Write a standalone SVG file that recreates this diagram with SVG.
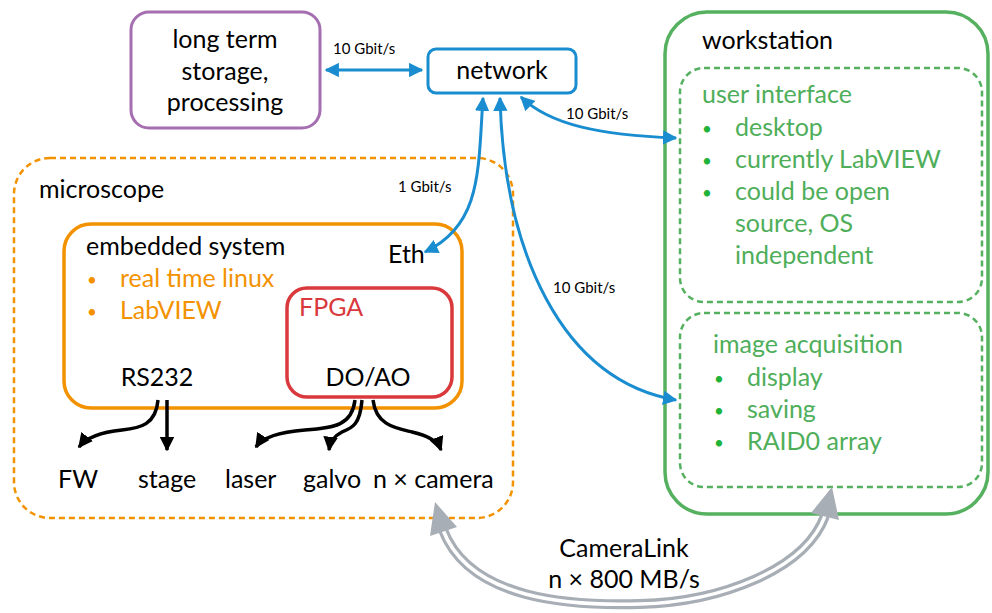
<svg xmlns="http://www.w3.org/2000/svg" width="992" height="613" viewBox="0 0 992 613">
<defs>
<style>
text{font-family:Lato,"Liberation Sans",sans-serif;font-size:25px;fill:#000}
.small{font-size:15px}
.bul{font-size:17px}
.or{fill:#f39200}
.gr{fill:#4fae5a}
.bg{fill:#1fb33a}
.red{fill:#d9393c}
.blue{fill:none;stroke:#1a8dd0;stroke-width:3}
.blk{fill:none;stroke:#000;stroke-width:3.5}
</style>
<marker id="bh" viewBox="0 0 10 10" refX="9" refY="5" markerWidth="4.8" markerHeight="4.8" orient="auto-start-reverse" markerUnits="strokeWidth">
<path d="M0,0 L10,5 L0,10 z" fill="#1a8dd0"/>
</marker>
<marker id="kh" viewBox="0 0 10 10" refX="9" refY="5" markerWidth="4.2" markerHeight="4.2" orient="auto" markerUnits="strokeWidth">
<path d="M0,0 L10,5 L0,10 z" fill="#000"/>
</marker>
</defs>
<rect width="992" height="613" fill="#fff"/>

<g id="storage">
<rect x="131" y="12" width="189" height="116" rx="18" fill="none" stroke="#a56eb0" stroke-width="3"/>
<text x="225" y="48" text-anchor="middle">long term</text>
<text x="225" y="80" text-anchor="middle">storage,</text>
<text x="225" y="111" text-anchor="middle">processing</text>
</g>

<g id="network">
<rect x="428" y="49" width="148" height="44" rx="8" fill="none" stroke="#1a8dd0" stroke-width="3"/>
<text x="502" y="79" text-anchor="middle">network</text>
</g>

<g id="workstation">
<rect x="665" y="12" width="323" height="502" rx="42" fill="none" stroke="#55b160" stroke-width="3.5"/>
<text x="702" y="49">workstation</text>
</g>

<g id="user-interface">
<rect x="680" y="68" width="302" height="234" rx="24" fill="none" stroke="#55b160" stroke-width="2.5" stroke-dasharray="6,4"/>
<text x="702" y="103" class="gr">user interface</text>
<text x="702" y="135" class="bg bul">•</text><text x="735" y="136" class="gr">desktop</text>
<text x="702" y="167" class="bg bul">•</text><text x="735" y="168" class="gr">currently LabVIEW</text>
<text x="702" y="199" class="bg bul">•</text><text x="735" y="200" class="gr">could be open</text>
<text x="735" y="232" class="gr">source, OS</text>
<text x="735" y="264" class="gr">independent</text>
</g>

<g id="image-acquisition">
<rect x="680" y="313" width="302" height="174" rx="24" fill="none" stroke="#55b160" stroke-width="2.5" stroke-dasharray="6,4"/>
<text x="713" y="353" class="gr">image acquisition</text>
<text x="714" y="385" class="bg bul">•</text><text x="747" y="386" class="gr">display</text>
<text x="714" y="417" class="bg bul">•</text><text x="747" y="418" class="gr">saving</text>
<text x="714" y="449" class="bg bul">•</text><text x="747" y="450" class="gr">RAID0 array</text>
</g>

<g id="microscope">
<rect x="14" y="158" width="499" height="360" rx="36" fill="none" stroke="#f39200" stroke-width="2.5" stroke-dasharray="6,4"/>
<text x="39" y="198">microscope</text>
</g>

<g id="embedded-system">
<rect x="64" y="224" width="398" height="184" rx="27" fill="none" stroke="#f39200" stroke-width="3.5"/>
<text x="86" y="255">embedded system</text>
<text x="87" y="286" class="or bul">•</text><text x="120" y="287" class="or">real time linux</text>
<text x="87" y="318" class="or bul">•</text><text x="120" y="319" class="or">LabVIEW</text>
<text x="388" y="263">Eth</text>
<text x="157" y="386" text-anchor="middle">RS232</text>
</g>

<g id="fpga">
<rect x="287" y="288" width="165" height="109" rx="20" fill="none" stroke="#d9393c" stroke-width="3.5"/>
<text x="299" y="316" class="red">FPGA</text>
<text x="368" y="386" text-anchor="middle">DO/AO</text>
</g>

<g id="devices">
<text x="58" y="488">FW</text>
<text x="138" y="488">stage</text>
<text x="225" y="488">laser</text>
<text x="303" y="488">galvo</text>
<text x="373" y="488">n × camera</text>
</g>

<g id="connectors">
<path class="blue" d="M326,70 L422,70" marker-start="url(#bh)" marker-end="url(#bh)"/>
<text x="333" y="54" class="small">10 Gbit/s</text>
<path class="blue" d="M483,98 C478,170 482,225 425,252" marker-start="url(#bh)" marker-end="url(#bh)"/>
<text x="398" y="192" class="small">1 Gbit/s</text>
<path class="blue" d="M500,98 C504,250 560,380 676,400" marker-start="url(#bh)" marker-end="url(#bh)"/>
<text x="553" y="293" class="small">10 Gbit/s</text>
<path class="blue" d="M521,97 C550,125 600,135 676,138" marker-start="url(#bh)" marker-end="url(#bh)"/>
<text x="566" y="119" class="small">10 Gbit/s</text>

<path class="blk" d="M158,400 C156,425 140,428 122,430 C102,432 86,438 79,447" marker-end="url(#kh)"/>
<path class="blk" d="M167,400 L167,450" marker-end="url(#kh)"/>
<path class="blk" d="M355,400 C352,425 335,428 305,430 C280,432 262,438 256,447" marker-end="url(#kh)"/>
<path class="blk" d="M362,400 C360,425 352,428 342,432 C334,436 330,442 329,450" marker-end="url(#kh)"/>
<path class="blk" d="M373,400 C376,425 395,428 412,432 C430,436 438,442 441,450" marker-end="url(#kh)"/>

<path d="M443,530 C470,600 570,606 640,604 C720,602 805,570 825,516" fill="none" stroke="#a8aeb6" stroke-width="10"/>
<path d="M443,530 C470,600 570,606 640,604 C720,602 805,570 825,516" fill="none" stroke="#fff" stroke-width="3.5"/>
<polygon points="435,502 457,527 430,536" fill="#a8aeb6"/>
<polygon points="832,487 839,520 811,513" fill="#a8aeb6"/>
<text x="624" y="557" text-anchor="middle">CameraLink</text>
<text x="624" y="588" text-anchor="middle">n × 800 MB/s</text>
</g>
</svg>
